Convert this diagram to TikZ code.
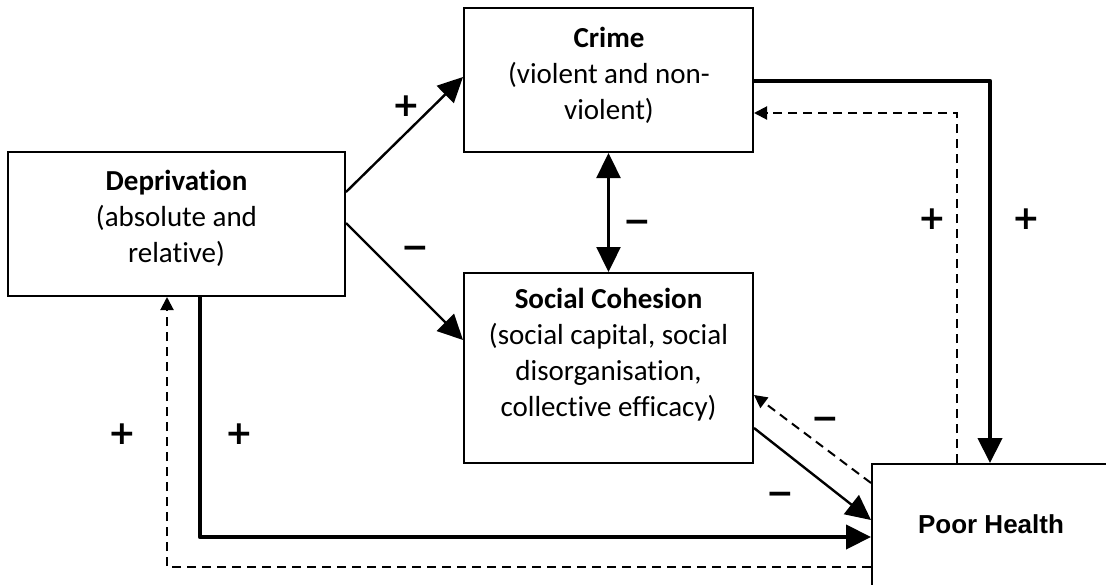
\documentclass[tikz,border=0pt]{standalone}
\usepackage{fontspec}
\setmainfont{Carlito}[Ligatures=NoCommon]
\newfontfamily\arialfont{Liberation Sans}
\newfontfamily\signfont{DejaVu Sans}
\usetikzlibrary{arrows.meta}
\begin{document}
\begin{tikzpicture}[x=1pt,y=-1pt,
  box/.style={draw, line width=2pt, inner sep=0pt},
  txt/.style={align=center, font=\fontsize{29}{36}\selectfont},
  conn/.style={line width=2.4pt, -{Triangle[length=25pt,width=24pt]}},
  dconn/.style={line width=2.4pt, {Triangle[length=25pt,width=24pt]}-{Triangle[length=25pt,width=24pt]}},
  thickconn/.style={line width=4.3pt, line join=round, -{Triangle[length=25pt,width=24pt]}},
  dashconn/.style={line width=2pt, dash pattern=on 9pt off 6pt, -{Triangle[length=13pt,width=13pt]}},
  sign/.style={font=\signfont\bfseries\fontsize{33}{33}\selectfont, inner sep=0pt, text height=23.8pt, text depth=0pt}]
\useasboundingbox (0,0) rectangle (1106,584);
\fill[white] (0,0) rectangle (1106,584);

% boxes
\node[box, minimum width=337pt, minimum height=144pt] (dep) at (176.5,224) {};
\node[box, minimum width=289pt, minimum height=144pt] (crime) at (608.5,80) {};
\node[box, minimum width=289pt, minimum height=190pt] (sc) at (608.5,368) {};
\node[box, minimum width=320pt, minimum height=160pt, anchor=north west] (ph) at (871,463) {};

% box texts
\node[txt] (deptext) at (176.5,218) {\textbf{Deprivation}\\(absolute and\\relative)};
\node[txt] (crimetext) at (609,75) {\textbf{Crime}\\(violent and non-\\violent)};
\node[txt] (sctext) at (608.5,355) {\textbf{Social Cohesion}\\(social capital, social\\disorganisation,\\collective efficacy)};
\node[font=\arialfont\bfseries\fontsize{26}{30}\selectfont] (phtext) at (991,524) {Poor Health};

% connectors
\draw[conn] (dep.east |- 0,192) -- (crime.west |- 0,77);
\draw[conn] (dep.east |- 0,223) -- (sc.west |- 0,340);
\draw[dconn] (crime.south) -- (sc.north);
\draw[thickconn] (crime.east |- 0,81) -| (ph.north west -| 990,0);
\draw[dashconn] (ph.north west -| 957,0) |- (crime.east |- 0,113);
\draw[dashconn] (ph.west |- 0,483) -- (sc.east |- 0,395);
\draw[conn] (sc.east |- 0,428) -- (ph.west |- 0,520);
\draw[thickconn] (dep.south -| 200,0) |- (ph.west |- 0,537);
\draw[dashconn] (ph.west |- 0,567) -| (dep.south -| 167,0);

% signs
\node[sign] (s1) at (406,105) {+};
\node[sign] (s2) at (415,247) {−};
\node[sign] (s3) at (637,221) {−};
\node[sign] (s4) at (932,218) {+};
\node[sign] (s5) at (1026,218) {+};
\node[sign] (s6) at (825,418) {−};
\node[sign] (s7) at (780,493) {−};
\node[sign] (s8) at (122,433) {+};
\node[sign] (s9) at (239,433) {+};
\end{tikzpicture}
\end{document}
